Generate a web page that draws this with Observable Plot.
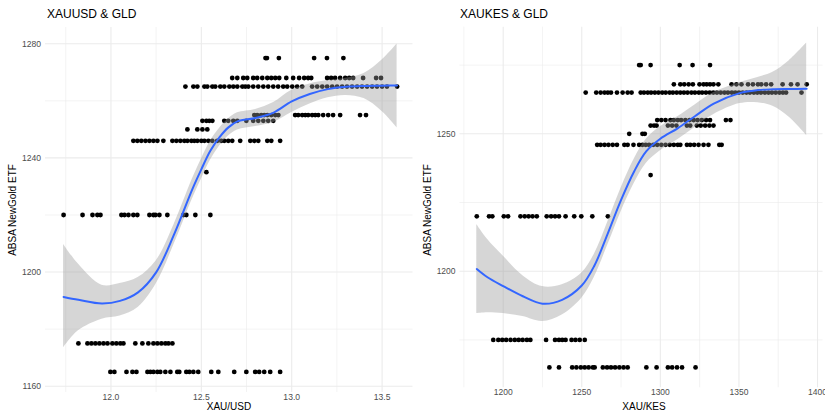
<!DOCTYPE html>
<html><head><meta charset="utf-8">
<script src="https://cdn.jsdelivr.net/npm/d3@7"></script>
<script src="https://cdn.jsdelivr.net/npm/@observablehq/plot@0.6"></script>
<style>
html,body{margin:0;padding:0;background:#fff;overflow:hidden;width:825px;height:414px;}
#wrap{position:relative;width:825px;height:414px;overflow:hidden;font-family:"Liberation Sans",Arial,sans-serif;}
.panel{position:absolute;top:0;}
.panel svg{display:block;}
.title{position:absolute;font-size:12px;line-height:12px;color:#000;white-space:nowrap;}
.xtitle{position:absolute;font-size:10px;line-height:10px;color:#000;white-space:nowrap;transform:translateX(-50%);}
.ytitle{position:absolute;font-size:10px;line-height:10px;color:#000;white-space:nowrap;transform:translate(-50%,-50%) rotate(-90deg);}
</style>
</head><body>
<div id="wrap">
  <div class="panel" id="p1" style="left:0px"></div>
  <div class="panel" id="p2" style="left:415px"></div>
  <div class="title" style="left:47px;top:8px">XAUUSD &amp; GLD</div>
  <div class="title" style="left:460px;top:8px">XAUKES &amp; GLD</div>
  <div class="xtitle" style="left:229px;top:402px">XAU/USD</div>
  <div class="xtitle" style="left:644px;top:402px">XAU/KES</div>
  <div class="ytitle" style="left:13px;top:210px">ABSA NewGold ETF</div>
  <div class="ytitle" style="left:428px;top:210px">ABSA NewGold ETF</div>
</div>
<script>
// GLD (ABSA NewGold ETF) price levels, one row of points per level
const gldLevels = [1275, 1268, 1265, 1255, 1253, 1250, 1246, 1235, 1220, 1175, 1165];

// XAU/USD values for each GLD level (same order as gldLevels)
const xauUsdByLevel = [
  [12.855, 12.863, 12.929, 13.124, 13.195, 13.286],
  [12.671, 12.699, 12.732, 12.754, 12.787, 12.809, 12.837, 12.865, 12.887, 12.909, 12.931, 12.970, 13.008, 13.041, 13.069, 13.091, 13.108, 13.196, 13.218, 13.240, 13.268, 13.296, 13.318, 13.340, 13.395, 13.467, 13.494],
  [12.412, 12.456, 12.478, 12.517, 12.533, 12.561, 12.577, 12.605, 12.627, 12.655, 12.677, 12.699, 12.727, 12.743, 12.760, 12.787, 12.815, 12.843, 12.870, 12.898, 12.925, 12.953, 12.975, 13.003, 13.030, 13.058, 13.113, 13.141, 13.169, 13.196, 13.224, 13.251, 13.279, 13.306, 13.334, 13.362, 13.389, 13.417, 13.445, 13.472, 13.500, 13.527, 13.583],
  [12.793, 12.809, 12.831, 12.848, 12.865, 12.887, 12.909, 12.926, 13.019, 13.036, 13.058, 13.075, 13.091, 13.113, 13.130, 13.147, 13.174, 13.202, 13.229, 13.268, 13.378, 13.411],
  [12.506, 12.528, 12.544, 12.561, 12.627, 12.649, 12.677, 12.699, 12.749, 12.787, 12.815, 12.843, 12.870, 12.898],
  [12.423, 12.478, 12.506, 12.533],
  [12.124, 12.146, 12.168, 12.191, 12.213, 12.235, 12.257, 12.290, 12.340, 12.362, 12.384, 12.406, 12.423, 12.445, 12.461, 12.478, 12.500, 12.517, 12.539, 12.561, 12.588, 12.610, 12.627, 12.649, 12.671, 12.715, 12.771, 12.793, 12.815, 12.865, 12.887, 12.936],
  [12.528],
  [11.738, 11.843, 11.898, 11.925, 11.942, 12.058, 12.075, 12.097, 12.124, 12.146, 12.213, 12.235, 12.246, 12.268, 12.312, 12.401, 12.417, 12.467, 12.550],
  [11.820, 11.870, 11.892, 11.914, 11.936, 11.959, 11.981, 12.008, 12.030, 12.052, 12.069, 12.135, 12.174, 12.207, 12.235, 12.257, 12.279, 12.301, 12.318, 12.340],
  [11.997, 12.019, 12.086, 12.119, 12.141, 12.202, 12.218, 12.235, 12.257, 12.273, 12.301, 12.329, 12.367, 12.378, 12.417, 12.434, 12.456, 12.483, 12.555, 12.594, 12.682, 12.749, 12.798, 12.820, 12.848, 12.881, 12.936]
];

// XAU/KES values for each GLD level (same order as gldLevels)
const xauKesByLevel = [
  [1286.5, 1287.5, 1293.8, 1312.3, 1320.5, 1331.6],
  [1308.6, 1312.7, 1315.2, 1318.0, 1320.7, 1324.9, 1327.5, 1329.5, 1331.6, 1333.8, 1336.9, 1345.3, 1348.4, 1351.6, 1355.8, 1358.9, 1362.1, 1364.2, 1367.3, 1370.5, 1377.8, 1383.1, 1387.3, 1393.1],
  [1252.5, 1259.2, 1262.0, 1264.5, 1266.6, 1268.6, 1272.4, 1276.0, 1279.2, 1281.7, 1287.5, 1289.6, 1292.0, 1294.1, 1296.5, 1298.8, 1301.2, 1303.4, 1305.9, 1308.0, 1310.4, 1312.7, 1315.0, 1317.3, 1319.8, 1322.0, 1324.5, 1326.6, 1329.0, 1331.4, 1333.7, 1336.0, 1338.4, 1340.8, 1343.0, 1345.5, 1347.7, 1350.0, 1352.4, 1354.8, 1357.0, 1359.5, 1361.7, 1364.0, 1366.5, 1368.8, 1371.0, 1373.4, 1375.8, 1378.0, 1380.0, 1389.8],
  [1298.0, 1300.6, 1303.3, 1306.4, 1308.6, 1311.1, 1313.2, 1315.9, 1318.6, 1321.2, 1323.7, 1326.4, 1329.1, 1331.6, 1341.7, 1344.6],
  [1293.8, 1296.0, 1297.6, 1304.8, 1307.5, 1310.2, 1316.9, 1319.0, 1323.2, 1325.7, 1328.5, 1331.2, 1333.8],
  [1280.2, 1288.6, 1290.1],
  [1259.8, 1262.0, 1264.5, 1267.0, 1269.7, 1272.4, 1277.1, 1279.2, 1282.9, 1286.5, 1288.6, 1290.7, 1292.8, 1295.5, 1298.0, 1300.6, 1303.3, 1306.0, 1308.6, 1311.1, 1312.7, 1316.9, 1319.0, 1321.5, 1324.3, 1327.5, 1330.6, 1337.5, 1339.0],
  [1293.8],
  [1183.2, 1191.0, 1193.1, 1200.4, 1203.1, 1211.0, 1213.7, 1216.2, 1218.7, 1221.4, 1227.7, 1230.5, 1233.0, 1235.5, 1239.7, 1245.2, 1249.7, 1256.7, 1266.6],
  [1193.7, 1196.9, 1199.4, 1201.9, 1204.7, 1207.4, 1209.9, 1212.4, 1215.1, 1217.3, 1227.3, 1233.0, 1235.5, 1237.6, 1239.7, 1243.5, 1246.0, 1248.7, 1251.9],
  [1229.4, 1235.5, 1243.9, 1246.6, 1249.4, 1251.9, 1254.4, 1257.1, 1258.2, 1263.4, 1266.1, 1268.6, 1271.2, 1273.9, 1276.6, 1279.2, 1291.1, 1297.6, 1304.8, 1307.5, 1310.6, 1313.8, 1322.4]
];

// Loess smoother (fit and 95% band)
const usdSmoothX  = [11.738, 11.82, 11.95, 12.05, 12.15, 12.25, 12.35, 12.45, 12.5, 12.55, 12.6, 12.65, 12.7, 12.8, 12.9, 13.0, 13.1, 13.2, 13.3, 13.4, 13.5, 13.583];
const usdSmoothY  = [1191.3, 1190.3, 1189.0, 1189.9, 1192.9, 1199.9, 1213.3, 1229.0, 1236.0, 1242.5, 1247.2, 1250.7, 1252.8, 1254.0, 1255.9, 1259.8, 1262.4, 1264.1, 1264.9, 1265.2, 1265.3, 1265.4];
const usdSmoothLo = [1173.4, 1179.4, 1183.5, 1184.6, 1187.6, 1195.8, 1209.8, 1225.5, 1232.5, 1239.2, 1244.1, 1247.7, 1249.8, 1251.0, 1252.4, 1255.9, 1258.9, 1261.1, 1261.9, 1260.8, 1256.3, 1250.6];
const usdSmoothHi = [1209.7, 1202.8, 1195.4, 1196.0, 1198.1, 1203.9, 1216.8, 1232.5, 1239.5, 1245.8, 1250.3, 1253.7, 1255.8, 1257.0, 1259.4, 1263.7, 1265.9, 1267.1, 1267.9, 1269.6, 1274.3, 1279.9];

const kesSmoothX  = [1183.2, 1190, 1200, 1212.5, 1225, 1237.5, 1250, 1258, 1266.6, 1274.9, 1283.4, 1291, 1300, 1311, 1322, 1334, 1350.5, 1362, 1371.6, 1382, 1393.1];
const kesSmoothY  = [1200.8, 1197.8, 1194.6, 1190.9, 1188.2, 1189.6, 1194.8, 1202.0, 1213.8, 1225.8, 1236.4, 1243.6, 1248.2, 1252.0, 1256.4, 1261.0, 1264.8, 1265.9, 1266.2, 1266.3, 1266.4];
const kesSmoothLo = [1184.6, 1184.9, 1184.6, 1183.5, 1181.7, 1184.1, 1190.2, 1197.8, 1209.6, 1221.5, 1232.0, 1239.2, 1243.8, 1247.8, 1252.3, 1257.0, 1261.0, 1261.3, 1260.0, 1256.0, 1249.4];
const kesSmoothHi = [1217.0, 1211.6, 1205.5, 1198.4, 1194.4, 1195.1, 1199.4, 1206.2, 1218.0, 1230.1, 1240.8, 1248.0, 1252.6, 1256.2, 1260.5, 1265.0, 1268.6, 1270.5, 1272.4, 1276.6, 1283.0];

// Axis ticks and grid lines
const usdXTicks = [12.0, 12.5, 13.0, 13.5];
const usdXMinor = [11.75, 12.25, 12.75, 13.25];
const usdYTicks = [1160, 1200, 1240, 1280];
const usdYMinor = [1180, 1220, 1260];
const kesXTicks = [1200, 1250, 1300, 1350, 1400];
const kesXMinor = [1175, 1225, 1275, 1325, 1375];
const kesYTicks = [1200, 1250];
const kesYMinor = [1175, 1225, 1275];

function toPoints(byLevel) {
  const pts = [];
  byLevel.forEach((xs, i) => xs.forEach(x => pts.push({x, y: gldLevels[i]})));
  return pts;
}
function toSmooth(xs, ys, lo, hi) {
  return xs.map((x, i) => ({x, y: ys[i], lo: lo[i], hi: hi[i]}));
}

function panel({points, smooth, xDomain, yDomain, xTicks, xMinor, yTicks, yMinor, xFormat}) {
  return Plot.plot({
    width: 415,
    height: 414,
    marginLeft: 45,
    marginRight: 2.5,
    marginTop: 27,
    marginBottom: 22,
    style: {fontFamily: '"Liberation Sans", Arial, sans-serif', background: "transparent"},
    x: {domain: xDomain, label: null},
    y: {domain: yDomain, label: null},
    marks: [
      Plot.ruleX(xMinor, {stroke: "#ebebeb", strokeWidth: 0.6}),
      Plot.ruleY(yMinor, {stroke: "#ebebeb", strokeWidth: 0.6}),
      Plot.ruleX(xTicks, {stroke: "#ebebeb", strokeWidth: 1.1}),
      Plot.ruleY(yTicks, {stroke: "#ebebeb", strokeWidth: 1.1}),
      Plot.dot(points, {x: "x", y: "y", r: 2.4, fill: "#000", stroke: "none"}),
      Plot.areaY(smooth, {x: "x", y1: "lo", y2: "hi", fill: "#999999", fillOpacity: 0.4, curve: "catmull-rom"}),
      Plot.line(smooth, {x: "x", y: "y", stroke: "#3366FF", strokeWidth: 2, curve: "catmull-rom"}),
      Plot.axisX(xTicks, {tickSize: 0, tickPadding: 1.5, tickFormat: xFormat, fontSize: 8.6, color: "#4d4d4d", label: null}),
      Plot.axisY(yTicks, {tickSize: 0, tickPadding: 4.5, tickFormat: d3.format("d"), fontSize: 8.6, color: "#4d4d4d", label: null})
    ]
  });
}

document.getElementById("p1").appendChild(panel({
  points: toPoints(xauUsdByLevel),
  smooth: toSmooth(usdSmoothX, usdSmoothY, usdSmoothLo, usdSmoothHi),
  xDomain: [11.638, 13.671],
  yDomain: [1157.8, 1285.7],
  xTicks: usdXTicks, xMinor: usdXMinor, yTicks: usdYTicks, yMinor: usdYMinor,
  xFormat: d3.format(".1f")
}));
document.getElementById("p2").appendChild(panel({
  points: toPoints(xauKesByLevel),
  smooth: toSmooth(kesSmoothX, kesSmoothY, kesSmoothLo, kesSmoothHi),
  xDomain: [1172.5, 1403.5],
  yDomain: [1157.6, 1288.8],
  xTicks: kesXTicks, xMinor: kesXMinor, yTicks: kesYTicks, yMinor: kesYMinor,
  xFormat: d3.format("d")
}));
</script>
</body></html>
